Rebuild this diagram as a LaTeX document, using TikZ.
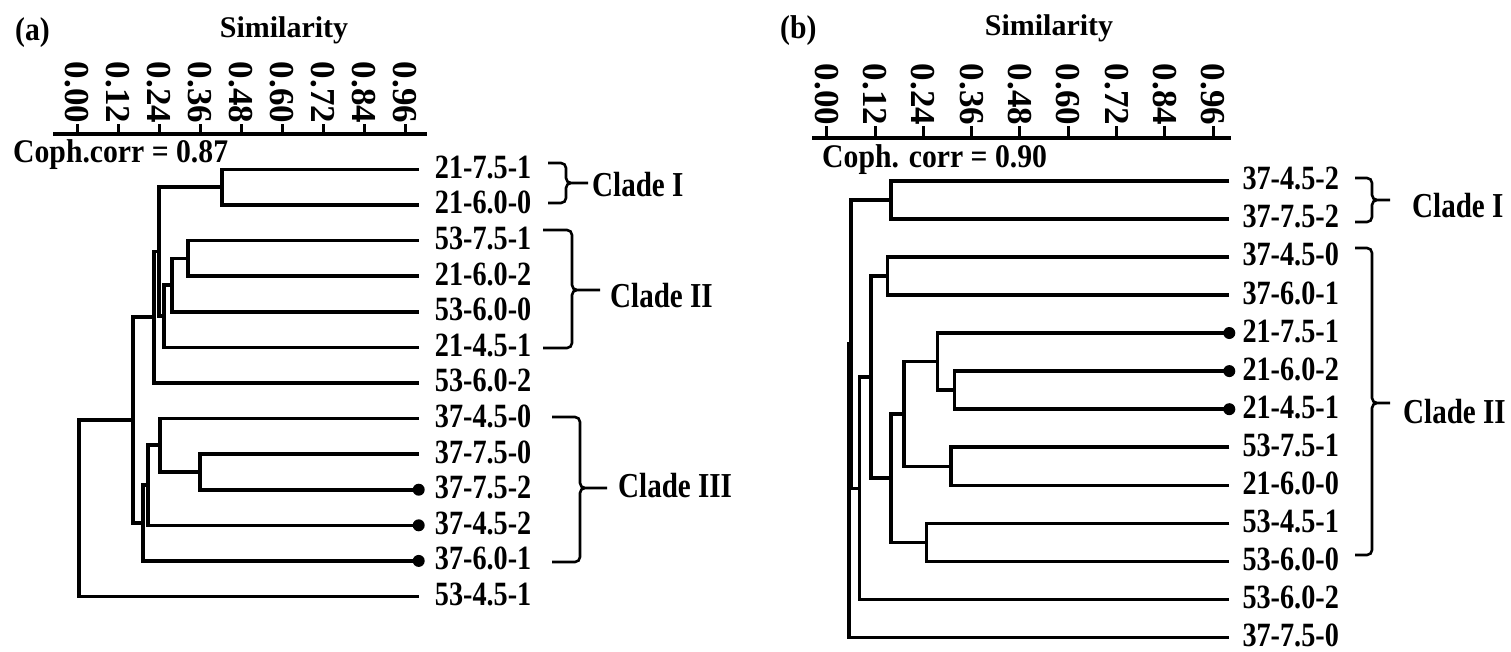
\documentclass[tikz,border=0pt]{standalone}
\usepackage{fontspec}
\setmainfont{Liberation Serif}
\newfontfamily\condfont{Liberation Serif}[FakeStretch=0.83]
\newfontfamily\notefont{Liberation Serif}[FakeStretch=0.9]
\usetikzlibrary{calc}

\begin{document}
\begin{tikzpicture}[x=1pt,y=-1pt,
  branch/.style={line width=3.6pt},
  axisline/.style={line width=4pt},
  tick/.style={line width=3pt},
  ticklabel/.style={rotate=-90,anchor=east,inner sep=0pt,outer sep=1pt,font=\bfseries\fontsize{35}{35}\selectfont},
  leaf/.style={anchor=west,inner sep=0pt,font=\condfont\bfseries\fontsize{34}{34}\selectfont},
  title/.style={anchor=base,inner sep=0pt,font=\bfseries\fontsize{30}{30}\selectfont},
  note/.style={anchor=base west,inner sep=0pt,font=\notefont\bfseries\fontsize{33}{33}\selectfont},
  bracket/.style={line width=2.6pt,rounded corners=5pt},
  clade/.style={anchor=base west,inner sep=0pt,font=\condfont\bfseries\fontsize{35}{35}\selectfont}]
  \useasboundingbox (0,0) rectangle (1511,651);

  % ---- panel (a) ----
  \node[note] (tagA) at (15,40) {(a)};
  \node[title] (simA) at (284,37) {Similarity};
  \node[note] (corrA) at (13,162) {Coph.corr = 0.87};
  \draw[axisline] (53,134) -- (427,134);
  \begin{scope}[shift={(77,134)},x=341.7pt]
    \foreach \s in {0.00,0.12,0.24,0.36,0.48,0.60,0.72,0.84,0.96}
      {\draw[tick] (\s,0) -- (\s,-10) node[ticklabel]{\s};}
  \end{scope}
  \begin{scope}[shift={(77,169.3)},x=341.7pt,y=-35.6pt]
    \foreach \l [count=\i from 0] in {21-7.5-1,21-6.0-0,53-7.5-1,21-6.0-2,53-6.0-0,21-4.5-1,53-6.0-2,
                                      37-4.5-0,37-7.5-0,37-7.5-2,37-4.5-2,37-6.0-1,53-4.5-1}
      {\coordinate (a\i) at (1,\i);
       \path (a\i) ++(16pt,2pt) node[leaf] (la\i) {\l};}
    % joins: name/similarity/row/children
    \foreach \n/\s/\m/\p/\q in {A/0.424/0.5/a0/a1, B/0.325/2.5/a2/a3, C/0.278/3.25/aB/a4,
        D/0.255/4.125/aC/a5, E/0.240/2.3125/aA/aD, F/0.225/4.15625/aE/a6,
        G/0.360/8.5/a8/a9, H/0.243/7.75/a7/aG, I/0.208/8.875/aH/a10,
        J/0.193/9.9375/aI/a11, K/0.164/7.046875/aF/aJ, L/0.006/9.5234/aK/a12}
      {\coordinate (a\n) at (\s,\m);
       \draw[branch] (\p) -| (a\n) |- (\q);}
    \foreach \i in {9,10,11} {\fill (a\i) circle (6pt);}
  \end{scope}
  % clades (a)
  \draw[bracket] (548,163) -- (566,163) -- (566,183) -- (588,183)
                 (548,203) -- (566,203) -- (566,183) -- (588,183);
  \node[clade] (cladeAI) at (592,196) {Clade I};
  \draw[bracket] (543,230) -- (572,230) -- (572,290) -- (600,290)
                 (543,348) -- (572,348) -- (572,290) -- (600,290);
  \node[clade] (cladeAII) at (610,307) {Clade II};
  \draw[bracket] (552,417) -- (580,417) -- (580,488) -- (607,488)
                 (552,562) -- (580,562) -- (580,488) -- (607,488);
  \node[clade] (cladeAIII) at (618,497) {Clade III};

  % ---- panel (b) ----
  \node[note] (tagB) at (780,38) {(b)};
  \node[title] (simB) at (1049,35) {Similarity};
  \node[note] (corrB) at (822,167) {Coph. corr = 0.90};
  \draw[axisline] (812,138) -- (1231,138);
  \begin{scope}[shift={(826.7,138)},x=402.6pt]
    \foreach \s in {0.00,0.12,0.24,0.36,0.48,0.60,0.72,0.84,0.96}
      {\draw[tick] (\s,0) -- (\s,-12) node[ticklabel]{\s};}
  \end{scope}
  \begin{scope}[shift={(826.7,180.7)},x=402.6pt,y=-38.08pt]
    \foreach \l [count=\i from 0] in {37-4.5-2,37-7.5-2,37-4.5-0,37-6.0-1,21-7.5-1,21-6.0-2,21-4.5-1,
                                      53-7.5-1,21-6.0-0,53-4.5-1,53-6.0-0,53-6.0-2,37-7.5-0}
      {\coordinate (b\i) at (1,\i);
       \path (b\i) ++(13pt,2pt) node[leaf] (lb\i) {\l};}
    \foreach \n/\s/\m/\p/\q in {A/0.159/0.5/b0/b1, B/0.151/2.5/b2/b3, C/0.317/5.5/b5/b6,
        D/0.275/4.75/b4/bC, E/0.308/7.5/b7/b8, F/0.192/6.125/bD/bE,
        G/0.248/9.5/b9/b10, H/0.159/7.8125/bF/bG, I/0.110/5.15625/bB/bH,
        J/0.081/8.078125/bI/b11, K/0.060/4.2890625/bA/bJ, L/0.056/8.14453/bK/b12}
      {\coordinate (b\n) at (\s,\m);
       \draw[branch] (\p) -| (b\n) |- (\q);}
    \foreach \i in {4,5,6} {\fill (b\i) circle (6pt);}
  \end{scope}
  % clades (b)
  \draw[bracket] (1355,178) -- (1372,178) -- (1372,200) -- (1390,200)
                 (1355,222) -- (1372,222) -- (1372,200) -- (1390,200);
  \node[clade] (cladeBI) at (1412,217) {Clade I};
  \draw[bracket] (1355,248) -- (1372,248) -- (1372,403) -- (1390,403)
                 (1355,555) -- (1372,555) -- (1372,403) -- (1390,403);
  \node[clade] (cladeBII) at (1403,423) {Clade II};
\end{tikzpicture}
\end{document}
